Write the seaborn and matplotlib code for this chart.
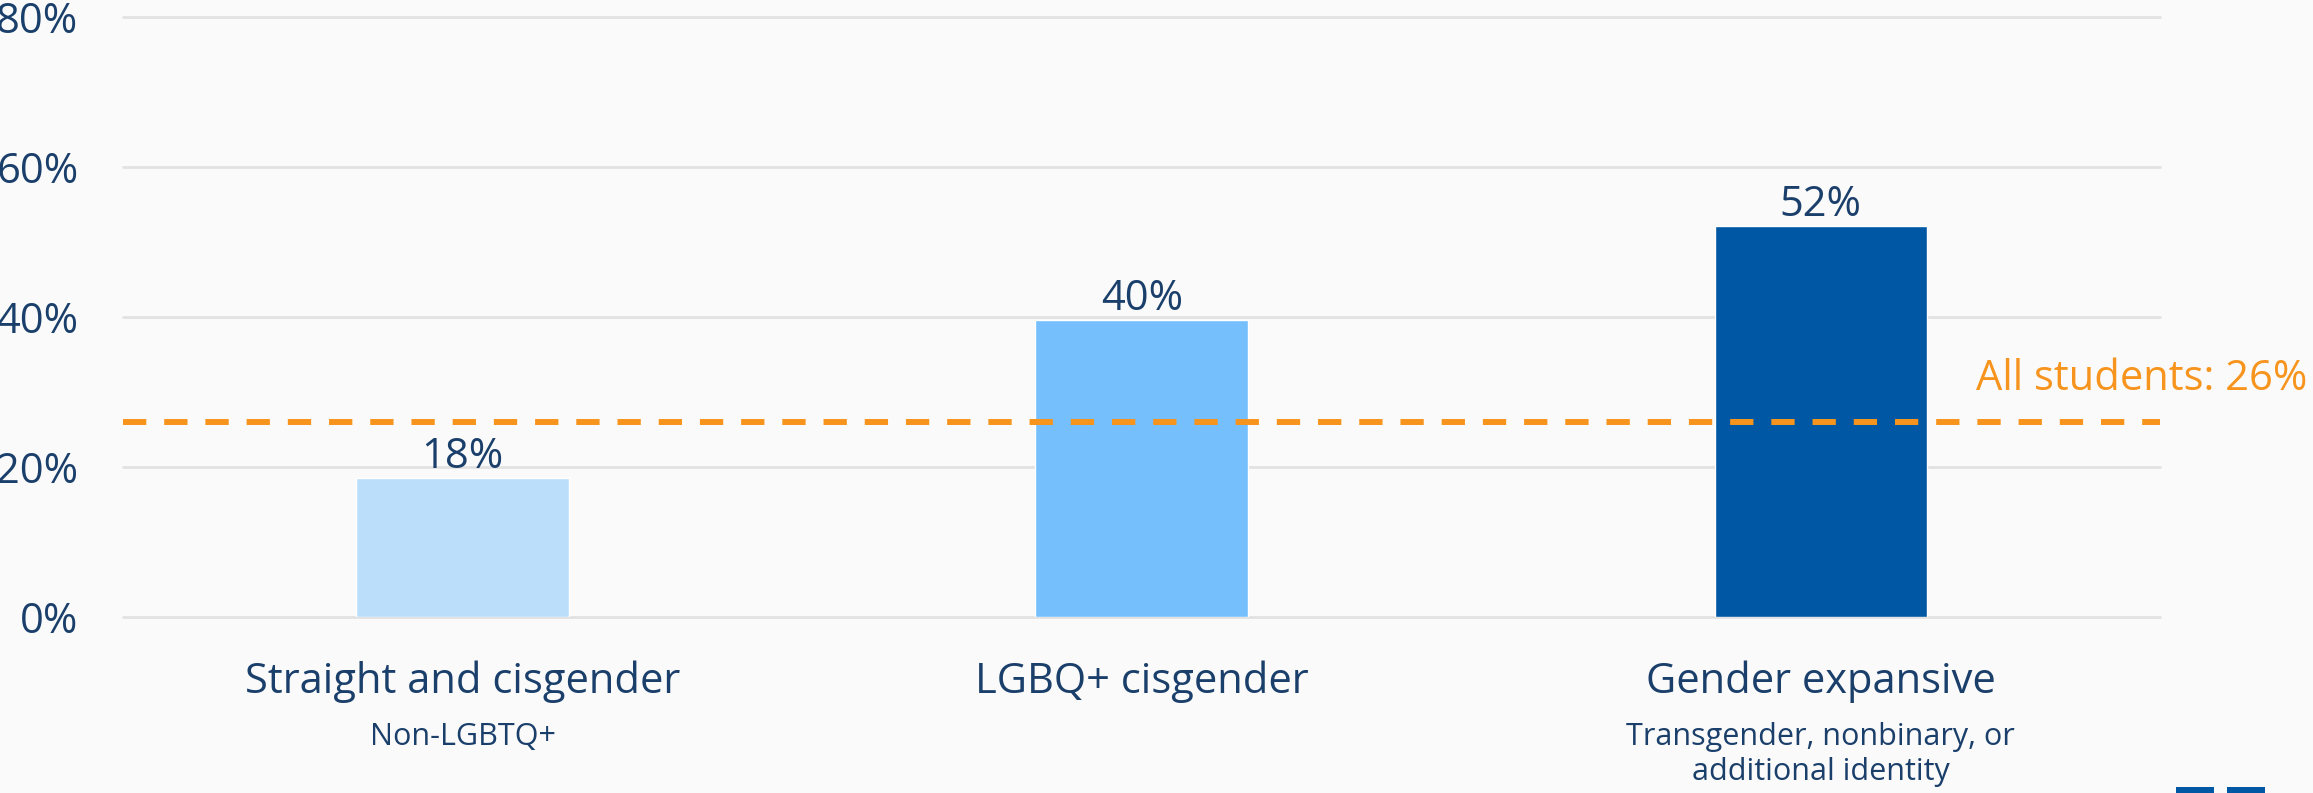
import matplotlib
matplotlib.use("Agg")
import matplotlib.pyplot as plt
import pandas as pd
import seaborn as sns
from matplotlib.patches import Rectangle

# --- chart data ---
categories = ["Straight and cisgender", "LGBQ+ cisgender", "Gender expansive"]
subtitles = [["Non-LGBTQ+"], [], ["Transgender, nonbinary, or", "additional identity"]]
values = [18.5, 39.6, 52.1]
value_labels = ["18%", "40%", "52%"]
bar_colors = ["#bbdefb", "#75bffd", "#0057a3"]
all_students = 26
all_students_label = "All students: 26%"
y_ticks = [0, 20, 40, 60, 80]
y_tick_labels = ["0%", "20%", "40%", "60%", "80%"]

TEXT = "#1b3f6b"
ORANGE = "#f7941d"
BG = "#fafafa"
GRID = "#e2e2e2"

sns.set_theme(style="white")
plt.rcParams["font.family"] = ["Open Sans", "DejaVu Sans"]

df = pd.DataFrame({"group": categories, "pct": values})

fig = plt.figure(figsize=(23.13, 7.93), dpi=100, facecolor=BG)
ax = fig.add_axes([0.0532, 0.2219, 0.8808, 0.7566])
ax.set_facecolor(BG)

sns.barplot(
    data=df, x="group", y="pct", hue="group", palette=bar_colors,
    width=0.313, saturation=1, legend=False, ax=ax, zorder=2,
)

ax.set_xlim(-0.5, 2.5)
ax.set_ylim(0, 80)
ax.set_yticks(y_ticks, y_tick_labels)
ax.set_xticks([])
ax.set_xlabel("")
ax.set_ylabel("")
ax.yaxis.grid(True, color=GRID, linewidth=2)
for gl in ax.get_ygridlines():
    gl.set_clip_on(False)
ax.set_axisbelow(True)
sns.despine(ax=ax, left=True, bottom=True)
ax.tick_params(axis="y", length=0, pad=32, labelsize=30, labelcolor=TEXT)

# average reference line
ax.axhline(all_students, color=ORANGE, lw=4.3, dashes=(3.9, 3), zorder=3)
ax.annotate(
    all_students_label, xy=(1, all_students), xycoords=("axes fraction", "data"),
    xytext=(147, 32), textcoords="offset pixels", ha="right", va="baseline",
    fontsize=30, color=ORANGE, annotation_clip=False,
)

# value labels above bars
for cont, lab in zip(ax.containers, value_labels):
    ax.bar_label(cont, labels=[lab], padding=0, fontsize=30, color=TEXT)

# category labels with subtitles (one text per line)
xt = ax.get_xaxis_transform()
sub_rows = [-0.2133, -0.2717]
for i, (cat, sub) in enumerate(zip(categories, subtitles)):
    ax.text(i, -0.1267, cat, transform=xt, ha="center", va="baseline",
            fontsize=30, color=TEXT)
    for line, yy in zip(sub, sub_rows):
        ax.text(i, yy, line, transform=xt, ha="center", va="baseline",
                fontsize=22, color=TEXT)

# logo fragment at bottom right
for x0 in (2176, 2227):
    fig.add_artist(Rectangle((x0 / 2313, 0), 38 / 2313, 6 / 793,
                             transform=fig.transFigure, color="#0057a3", lw=0))

fig.savefig("out.png", dpi=100, facecolor=BG)
